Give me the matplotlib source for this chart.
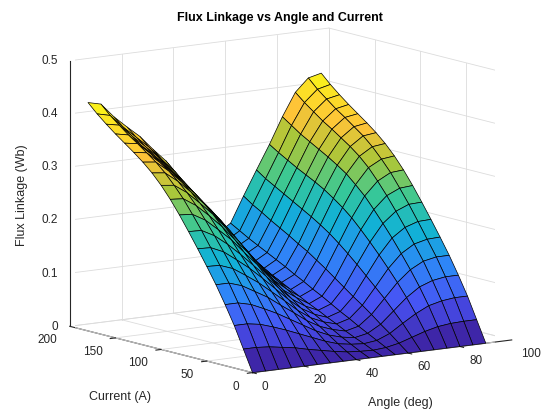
import numpy as np
import matplotlib.pyplot as plt
from matplotlib.colors import LinearSegmentedColormap, Normalize
from mpl_toolkits.mplot3d import proj3d

plt.rcParams['font.family'] = ['Liberation Sans', 'DejaVu Sans']

# Angle (deg) and current (A) grid of the flux table
angle_deg = [0, 5, 10, 15, 20, 25, 30, 35, 40, 45, 50, 55, 60, 65, 70, 75, 80, 85, 90]
current_a = [0, 10, 20, 30, 40, 50, 60, 70, 80, 90, 100, 110, 120, 130, 140, 150, 160, 170, 180]

# Flux linkage (Wb), one row per current, one column per angle
flux_wb = [
    [0.000, 0.000, 0.000, 0.000, 0.000, 0.000, 0.000, 0.000, 0.000, 0.000, 0.000, 0.000, 0.000, 0.000, 0.000, 0.000, 0.000, 0.000, 0.000],
    [0.040, 0.040, 0.038, 0.034, 0.030, 0.024, 0.019, 0.014, 0.010, 0.008, 0.007, 0.009, 0.014, 0.022, 0.030, 0.036, 0.039, 0.040, 0.040],
    [0.080, 0.080, 0.076, 0.068, 0.059, 0.049, 0.039, 0.029, 0.021, 0.017, 0.015, 0.018, 0.028, 0.044, 0.059, 0.071, 0.077, 0.080, 0.080],
    [0.115, 0.115, 0.109, 0.098, 0.086, 0.072, 0.058, 0.044, 0.033, 0.026, 0.022, 0.027, 0.041, 0.063, 0.085, 0.102, 0.111, 0.115, 0.115],
    [0.148, 0.148, 0.140, 0.126, 0.112, 0.094, 0.077, 0.059, 0.045, 0.036, 0.030, 0.036, 0.055, 0.082, 0.109, 0.130, 0.143, 0.148, 0.148],
    [0.178, 0.177, 0.168, 0.152, 0.135, 0.115, 0.095, 0.074, 0.057, 0.046, 0.039, 0.046, 0.068, 0.099, 0.131, 0.156, 0.171, 0.177, 0.178],
    [0.207, 0.206, 0.195, 0.177, 0.158, 0.136, 0.113, 0.090, 0.070, 0.056, 0.047, 0.055, 0.080, 0.116, 0.152, 0.181, 0.198, 0.206, 0.207],
    [0.235, 0.234, 0.221, 0.202, 0.180, 0.156, 0.132, 0.106, 0.083, 0.067, 0.056, 0.065, 0.093, 0.133, 0.172, 0.204, 0.224, 0.234, 0.235],
    [0.262, 0.260, 0.246, 0.225, 0.203, 0.176, 0.150, 0.122, 0.096, 0.079, 0.064, 0.075, 0.106, 0.149, 0.191, 0.226, 0.249, 0.260, 0.262],
    [0.287, 0.285, 0.269, 0.247, 0.223, 0.195, 0.168, 0.138, 0.110, 0.090, 0.073, 0.084, 0.119, 0.164, 0.209, 0.247, 0.272, 0.285, 0.287],
    [0.309, 0.306, 0.289, 0.266, 0.242, 0.213, 0.185, 0.154, 0.124, 0.101, 0.082, 0.094, 0.131, 0.178, 0.224, 0.264, 0.293, 0.306, 0.309],
    [0.328, 0.325, 0.306, 0.283, 0.258, 0.229, 0.201, 0.169, 0.137, 0.113, 0.091, 0.103, 0.143, 0.190, 0.237, 0.280, 0.310, 0.325, 0.328],
    [0.344, 0.341, 0.321, 0.297, 0.273, 0.243, 0.216, 0.183, 0.150, 0.124, 0.100, 0.113, 0.153, 0.201, 0.249, 0.292, 0.324, 0.341, 0.344],
    [0.358, 0.354, 0.333, 0.310, 0.286, 0.257, 0.230, 0.197, 0.163, 0.135, 0.108, 0.122, 0.164, 0.211, 0.259, 0.303, 0.336, 0.354, 0.358],
    [0.371, 0.367, 0.345, 0.322, 0.298, 0.270, 0.243, 0.210, 0.175, 0.146, 0.117, 0.131, 0.174, 0.221, 0.268, 0.313, 0.348, 0.367, 0.371],
    [0.384, 0.379, 0.356, 0.334, 0.311, 0.283, 0.257, 0.224, 0.188, 0.157, 0.126, 0.140, 0.184, 0.231, 0.277, 0.323, 0.359, 0.379, 0.384],
    [0.398, 0.393, 0.369, 0.347, 0.324, 0.296, 0.271, 0.238, 0.201, 0.169, 0.135, 0.149, 0.195, 0.241, 0.287, 0.333, 0.372, 0.393, 0.398],
    [0.413, 0.407, 0.382, 0.360, 0.338, 0.311, 0.286, 0.253, 0.215, 0.180, 0.144, 0.159, 0.205, 0.251, 0.297, 0.345, 0.385, 0.407, 0.413],
    [0.430, 0.424, 0.397, 0.375, 0.354, 0.327, 0.302, 0.269, 0.229, 0.193, 0.153, 0.169, 0.217, 0.263, 0.308, 0.357, 0.400, 0.424, 0.430],
]

angle_ticks = [0, 20, 40, 60, 80, 100]
current_ticks = [0, 50, 100, 150, 200]
flux_ticks = [0, 0.1, 0.2, 0.3, 0.4, 0.5]
flux_tick_labels = ['0', '0.1', '0.2', '0.3', '0.4', '0.5']

# parula-like colour anchors
parula_pos = [0.0, 0.13, 0.27, 0.40, 0.53, 0.67, 0.80, 1.0]
parula_rgb = [(0.2422, 0.1504, 0.6603), (0.2810, 0.3228, 0.9579),
              (0.1786, 0.5289, 0.9682), (0.0689, 0.6948, 0.8394),
              (0.2161, 0.7843, 0.5923), (0.6720, 0.7793, 0.2227),
              (0.9970, 0.7659, 0.2199), (0.9769, 0.9839, 0.0805)]
parula = LinearSegmentedColormap.from_list('parula', list(zip(parula_pos, parula_rgb)))

A, I = np.meshgrid(angle_deg, current_a)
Z = np.array(flux_wb)
# each face takes the colour of its first corner, like MATLAB's flat shading
face_rgb = parula(Normalize(Z.min(), Z.max())(Z))

fig = plt.figure(figsize=(5.6, 4.2), dpi=100)
ax = fig.add_axes([0.009, 0.0095, 1.0, 1.0], projection='3d')
ax.set_proj_type('ortho')
ax.view_init(elev=10.3, azim=-125.2)
ax.set_box_aspect((1, 1, 0.851), zoom=1.21)

xmax, ymax, zmax = 100, 200, 0.5
ax.set_xlim(0, xmax)
ax.set_ylim(0, ymax)
ax.set_zlim(0, zmax)
ax.set_xticks([])
ax.set_yticks([])
ax.set_zticks([])

for axis in (ax.xaxis, ax.yaxis, ax.zaxis):
    axis.set_pane_color((1, 1, 1, 0))
    axis.pane.set_edgecolor((1, 1, 1, 0))
    axis.line.set_color('#262626')
    axis.line.set_linewidth(0.8)

# back-plane grid (floor, wall at y = 200, wall at x = 100)
grid = dict(color='#dcdcdc', linewidth=0.6, zorder=0.2)
for a in angle_ticks:
    ax.plot([a, a], [0, ymax], [0, 0], **grid)
    ax.plot([a, a], [ymax, ymax], [0, zmax], **grid)
for c in current_ticks:
    ax.plot([0, xmax], [c, c], [0, 0], **grid)
    ax.plot([xmax, xmax], [c, c], [0, zmax], **grid)
for f in flux_ticks:
    ax.plot([0, xmax], [ymax, ymax], [f, f], **grid)
    ax.plot([xmax, xmax], [0, ymax], [f, f], **grid)

# short outward tick marks
tick = dict(color='#262626', linewidth=0.8, zorder=0.3)
for a in angle_ticks:
    ax.plot([a, a], [0, -4], [0, 0], **tick)
for c in current_ticks:
    ax.plot([0, -2], [c, c], [0, 0], **tick)
for f in flux_ticks:
    ax.plot([0, 0], [ymax, ymax + 5], [f, f], **tick)

ax.plot_surface(A, I, Z, facecolors=face_rgb, shade=False,
                rstride=1, cstride=1, edgecolor='black', linewidth=0.5,
                antialiased=True)

# tick labels: project the 3D anchor to figure coords, then plain figure text
fig.canvas.draw()
to_fig = fig.transFigure.inverted()


def label_at(x, y, z, s, **kw):
    px, py, _ = proj3d.proj_transform(x, y, z, ax.get_proj())
    fx, fy = to_fig.transform(ax.transData.transform((px, py)))
    fig.text(fx, fy, s, fontsize=8.5, color='#262626', **kw)


for a in angle_ticks:
    label_at(a, -10, -0.011, str(a), ha='left', va='top')
for c in current_ticks:
    label_at(-5, c, -0.012, str(c), ha='right', va='top')
for f, lab in zip(flux_ticks, flux_tick_labels):
    label_at(-4.5, ymax, f + 0.002, lab, ha='right', va='center')

fig.text(0.5, 1 - 18 / 420, 'Flux Linkage vs Angle and Current',
         ha='center', va='center', fontsize=9, fontweight='bold')
fig.text(22 / 560, 1 - 195 / 420, 'Flux Linkage (Wb)', rotation=90,
         ha='center', va='center', fontsize=9, color='#262626')
fig.text(120 / 560, 1 - 397 / 420, 'Current (A)', ha='center', va='center',
         fontsize=9, color='#262626')
fig.text(400 / 560, 1 - 403 / 420, 'Angle (deg)', ha='center', va='center',
         fontsize=9, color='#262626')

fig.savefig('out.png', dpi=100)
